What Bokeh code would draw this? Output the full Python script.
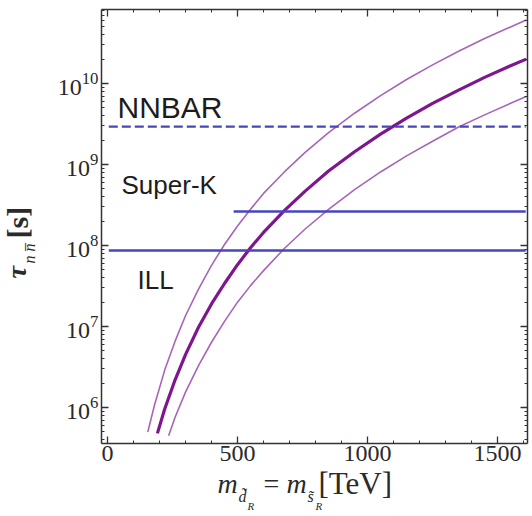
import math
from bokeh.plotting import figure
from bokeh.models import Range1d, Label, LinearAxis, LogAxis, FixedTicker, CustomJSTickFormatter
from bokeh.embed import file_html
from bokeh.resources import INLINE

# squark mass [TeV] and n-nbar oscillation time [s]
mass_central = [192, 220, 260, 300, 350, 400, 450, 500, 550, 600, 680, 760, 850, 950, 1050, 1150, 1250, 1350, 1450, 1550, 1610]
tau_central = [4.8e5, 9.6e5, 2.2e6, 4.5e6, 9.8e6, 1.9e7, 3.4e7, 5.8e7, 9.4e7, 1.45e8, 2.7e8, 4.7e8, 8.3e8,
               1.44e9, 2.37e9, 3.75e9, 5.7e9, 8.3e9, 1.19e10, 1.66e10, 2.0e10]

mass_upper = [155, 180, 220, 260, 300, 350, 400, 450, 500, 550, 600, 680, 760, 850, 950, 1050, 1150, 1250, 1350, 1450, 1550, 1610]
tau_upper = [5.0e5, 1.05e6, 2.9e6, 6.6e6, 1.36e7, 2.9e7, 5.7e7, 1.03e8, 1.74e8, 2.8e8, 4.4e8, 8.1e8, 1.41e9,
             2.48e9, 4.3e9, 7.1e9, 1.12e10, 1.7e10, 2.5e10, 3.6e10, 5.0e10, 6.1e10]

mass_lower = [235, 260, 300, 350, 400, 450, 500, 550, 600, 680, 760, 850, 950, 1050, 1150, 1250, 1350, 1450, 1550, 1610]
tau_lower = [4.5e5, 7.6e5, 1.55e6, 3.3e6, 6.4e6, 1.16e7, 2.0e7, 3.2e7, 4.9e7, 9.2e7, 1.6e8, 2.8e8, 4.9e8,
             8.1e8, 1.28e9, 1.94e9, 2.9e9, 4.1e9, 5.7e9, 6.9e9]

# experimental limits
exp_names = ["NNBAR", "Super-K", "ILL"]
exp_tau = [2.94e9, 2.63e8, 8.67e7]
exp_start = [5, 485, 5]
exp_end = [1608, 1608, 1608]
exp_dash = ["9 4", "solid", "solid"]

x_ticks = [0, 500, 1000, 1500]
x_minor = list(range(0, 1700, 100))
y_ticks = [1e6, 1e7, 1e8, 1e9, 1e10]

# plot box (data limits) and its place on the 532x516 canvas
X0, X1 = -23.0, 1615.0
Y0, Y1 = 3.6e5, 8.2e10
W, H = 532, 516
BOX_L, BOX_R, BOX_T, BOX_B = 101, 527, 9, 443

y_minor = [k * 10.0 ** n for n in range(5, 11) for k in range(2, 10) if Y0 <= k * 10.0 ** n <= Y1]

ux = (X1 - X0) / (BOX_R - BOX_L)
LY0, LY1 = math.log10(Y0), math.log10(Y1)
uy = (LY1 - LY0) / (BOX_B - BOX_T)

def dx(px):
    return X0 + (px - BOX_L) * ux

def dy(py):
    return 10 ** (LY0 + (BOX_B - py) * uy)

SERIF = "Liberation Serif"
SANS = "Liberation Sans"

p = figure(frame_width=W, frame_height=H, output_backend="svg", toolbar_location=None,
           y_axis_type="log", x_range=Range1d(dx(0), dx(W)), y_range=Range1d(dy(H), dy(0)),
           min_border=0)
p.background_fill_color = "white"
p.border_fill_color = "white"
p.outline_line_color = None
p.grid.visible = False

def style_axis(ax, show_labels, size):
    ax.axis_line_color = "#333333"
    ax.axis_line_width = 1.5
    ax.major_tick_line_color = "#333333"
    ax.minor_tick_line_color = "#333333"
    ax.major_tick_line_width = 1.3
    ax.major_tick_in = 7
    ax.major_tick_out = 0
    ax.minor_tick_in = 3
    ax.minor_tick_out = 0
    ax.major_label_text_font = SERIF
    ax.major_label_text_color = "#2a2a2a"
    ax.major_label_text_font_size = size if show_labels else "0px"

xb = p.xaxis[0]
xb.ticker = FixedTicker(ticks=x_ticks, minor_ticks=x_minor)
xb.fixed_location = Y0
xb.bounds = (X0, X1)
style_axis(xb, True, "24px")
xb.major_label_standoff = 2

yl = p.yaxis[0]
yl.ticker = FixedTicker(ticks=y_ticks, minor_ticks=y_minor)
yl.fixed_location = X0
yl.bounds = (Y0, Y1)
style_axis(yl, True, "24px")
yl.major_label_standoff = 3

xt = LinearAxis(ticker=FixedTicker(ticks=x_ticks, minor_ticks=x_minor),
                formatter=CustomJSTickFormatter(code="return ''"),
                fixed_location=Y1, bounds=(X0, X1))
style_axis(xt, False, "0px")
p.add_layout(xt, "above")
yr = LogAxis(ticker=FixedTicker(ticks=y_ticks, minor_ticks=y_minor),
             formatter=CustomJSTickFormatter(code="return ''"),
             fixed_location=X1, bounds=(Y0, Y1))
style_axis(yr, False, "0px")
p.add_layout(yr, "right")

# curves
p.line(mass_upper, tau_upper, line_color="#a865b8", line_width=1.6)
p.line(mass_lower, tau_lower, line_color="#a865b8", line_width=1.6)
p.line(mass_central, tau_central, line_color="#7e1690", line_width=3.2)

# limits
for t, s, e, d in zip(exp_tau, exp_start, exp_end, exp_dash):
    p.line([s, e], [t, t], line_color="#4646be", line_width=2.4, line_dash=d)

def lab(px, py, text, size, style="normal", angle=0.0, font=SERIF, color="#2a2a2a"):
    p.add_layout(Label(x=dx(px), y=dy(py), text=text, angle=angle,
                       text_font=font, text_font_size=size, text_font_style=style,
                       text_color=color, text_baseline="alphabetic", text_align="left"))

# experiment names
lab(117, 107, "NNBAR", "30px", font=SANS, color="#1c1c1c")
lab(121, 184, "Super-K", "26px", font=SANS, color="#1c1c1c")
lab(137, 279, "ILL", "26px", font=SANS, color="#1c1c1c")

# x axis title
lab(217, 483, "m", "28px", "italic")
lab(238, 496, "d\u0303", "16px", "italic")
lab(247, 505, "R", "11px", "italic")
lab(263, 483, "=", "28px")
lab(286, 483, "m", "28px", "italic")
lab(307, 496, "s\u0303", "16px", "italic")
lab(315, 505, "R", "11px", "italic")
lab(318, 483, "[TeV]", "31px")

# y axis title (rotated)
a = math.pi / 2
lab(16, 278, "\u03c4", "28px", "bold italic", angle=a)
lab(29, 263, "n n\u0305", "16px", "italic", angle=a)
lab(17, 238, "[s]", "30px", "bold", angle=a)

open("out.html", "w").write(file_html(p, INLINE))
